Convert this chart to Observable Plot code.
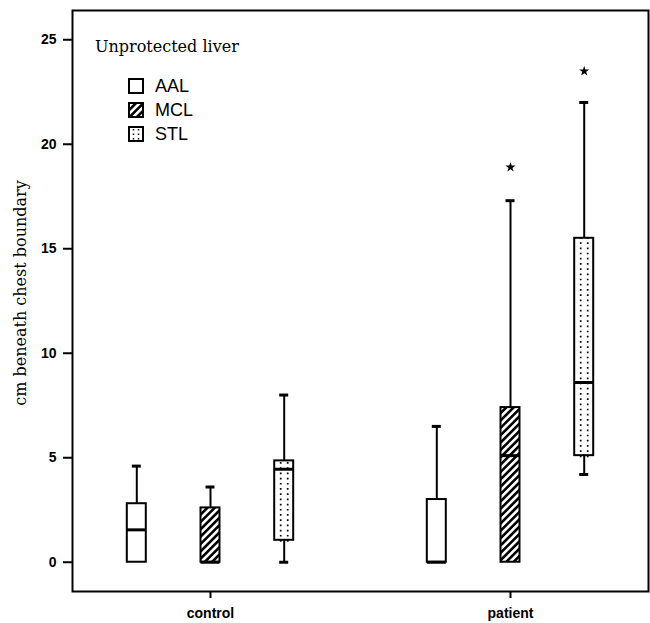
<!DOCTYPE html>
<html>
<head>
<meta charset="utf-8">
<script src="https://cdn.jsdelivr.net/npm/d3@7"></script>
<script src="https://cdn.jsdelivr.net/npm/@observablehq/plot@0.6"></script>
<style>
  html, body { margin: 0; padding: 0; background: #fff; }
  #chart { position: relative; width: 650px; height: 623px; }
  #chart svg.plot { display: block; }
  g[aria-label^="y-axis"] text { font-weight: bold; font-size: 14px; }
  g[aria-label^="x-axis"] text { font-weight: bold; font-size: 14px; }
  g[aria-label^="y-axis"] path, g[aria-label^="y-axis"] line,
  g[aria-label^="x-axis"] path, g[aria-label^="x-axis"] line { stroke-width: 2; }
  #legend-title { position: absolute; left: 95px; top: 38px; font-family: "DejaVu Serif", serif; font-size: 16px; line-height: 18px; color: #000; white-space: nowrap; }
  .lg-row { position: absolute; left: 128px; height: 24px; display: flex; align-items: center; font-family: "Liberation Sans", Arial, sans-serif; font-size: 18px; color: #000; }
  .lg-row svg { margin-right: 11px; display: block; }
</style>
</head>
<body>
<svg width="0" height="0" style="position:absolute">
  <defs>
    <pattern id="hatchMCL" patternUnits="userSpaceOnUse" width="5.2" height="5.2" patternTransform="rotate(45)">
      <rect x="0" y="0" width="5.2" height="5.2" fill="#fff"></rect>
      <rect x="0" y="0" width="2.6" height="5.2" fill="#000"></rect>
    </pattern>
  </defs>
</svg>
<div id="chart"></div>
<script>
// ---- data ----
const categories = ["control", "patient"];
const groups = ["AAL", "MCL", "STL"];
const boxCategory = ["control", "control", "control", "patient", "patient", "patient"];
const boxGroup = ["AAL", "MCL", "STL", "AAL", "MCL", "STL"];
const whiskerLow = [0, 0, 0, 0, 0, 4.2];
const quartile1 = [0, 0, 1.05, 0, 0, 5.1];
const medianValue = [1.55, 0, 4.45, 0, 5.1, 8.6];
const quartile3 = [2.8, 2.6, 4.85, 3.0, 7.4, 15.5];
const whiskerHigh = [4.6, 3.6, 8.0, 6.5, 17.3, 22.0];
const extremeCategory = ["patient", "patient"];
const extremeGroup = ["MCL", "STL"];
const extremeValue = [18.9, 23.5];
const yTicks = [0, 5, 10, 15, 20, 25];
const legendTitle = "Unprotected liver";
const yLabel = "cm beneath chest boundary";

// ---- build tables ----
const boxes = boxCategory.map((c, i) => ({
  category: c, group: boxGroup[i], low: whiskerLow[i], q1: quartile1[i],
  median: medianValue[i], q3: quartile3[i], high: whiskerHigh[i]
}));
const extremes = extremeCategory.map((c, i) => ({category: c, group: extremeGroup[i], value: extremeValue[i]}));

const groupOffset = {AAL: -73.7, MCL: 0, STL: 73.7};
const groupFill = {AAL: "white", MCL: "url(#hatchMCL)", STL: "white"};

const marks = [];
for (const g of groups) {
  const rows = boxes.filter(d => d.group === g);
  const dx = groupOffset[g];
  const lowRows = rows.filter(d => d.low < d.q1);
  marks.push(
    Plot.ruleX(rows, {x: "category", y1: "q3", y2: "high", dx, stroke: "black", strokeWidth: 2}),
    Plot.ruleX(lowRows, {x: "category", y1: "low", y2: "q1", dx, stroke: "black", strokeWidth: 2}),
    Plot.tickY(rows, {x: "category", y: "high", dx, stroke: "black", strokeWidth: 3, insetLeft: 5, insetRight: 5}),
    Plot.tickY(lowRows, {x: "category", y: "low", dx, stroke: "black", strokeWidth: 3, insetLeft: 5, insetRight: 5}),
    Plot.barY(rows, {x: "category", y1: "q1", y2: "q3", dx, fill: groupFill[g], stroke: "black", strokeWidth: 2})
  );
  if (g === "STL") {
    for (const off of [-3.5, 3.5]) {
      marks.push(Plot.ruleX(rows, {x: "category", y1: "q1", y2: "q3", dx: dx + off, stroke: "black", strokeWidth: 1.7, strokeDasharray: "1.7,3.5", insetTop: 2, insetBottom: 2}));
    }
  }
  marks.push(Plot.tickY(rows, {x: "category", y: "median", dx, stroke: "black", strokeWidth: 3}));
  const ex = extremes.filter(d => d.group === g);
  marks.push(Plot.dot(ex, {x: "category", y: "value", dx, symbol: "star", r: 3.2, fill: "black", stroke: "none"}));
}

const chart = Plot.plot({
  width: 650,
  height: 623,
  marginLeft: 72,
  marginRight: 2,
  marginTop: 10,
  marginBottom: 32,
  style: {fontFamily: "'Liberation Sans', Arial, sans-serif", fontSize: "14px", color: "black", background: "white"},
  x: {type: "band", domain: categories, paddingInner: 0.9367, paddingOuter: 0.42833, round: false, label: null, tickSize: 7, tickPadding: 10},
  y: {domain: [-1.4, 26.4], ticks: yTicks, tickSize: 9, tickPadding: 7, label: null},
  marks: [
    ...marks,
    Plot.frame({stroke: "black", strokeWidth: 2}),
    Plot.text([yLabel], {frameAnchor: "left", textAnchor: "middle", rotate: -90, dx: -52, dy: -8, fontFamily: "'DejaVu Serif', serif", fontSize: 16, fill: "black"})
  ]
});
chart.classList.add("plot");
const host = document.getElementById("chart");
host.appendChild(chart);

// ---- legend (HTML overlay) ----
const title = document.createElement("div");
title.id = "legend-title";
title.textContent = legendTitle;
host.appendChild(title);

const legendTop = [74, 98, 122];
groups.forEach((g, i) => {
  const row = document.createElement("div");
  row.className = "lg-row";
  row.style.top = legendTop[i] + "px";
  const ns = "http://www.w3.org/2000/svg";
  const sw = document.createElementNS(ns, "svg");
  sw.setAttribute("width", 16); sw.setAttribute("height", 16);
  const r = document.createElementNS(ns, "rect");
  r.setAttribute("x", 1); r.setAttribute("y", 1); r.setAttribute("width", 14); r.setAttribute("height", 14);
  r.setAttribute("fill", groupFill[g]); r.setAttribute("stroke", "black"); r.setAttribute("stroke-width", 2);
  sw.appendChild(r);
  if (g === "STL") {
    for (const x of [5.5, 10.5]) {
      const l = document.createElementNS(ns, "line");
      l.setAttribute("x1", x); l.setAttribute("x2", x); l.setAttribute("y1", 3); l.setAttribute("y2", 14);
      l.setAttribute("stroke", "black"); l.setAttribute("stroke-width", 1.5); l.setAttribute("stroke-dasharray", "1.5,3");
      sw.appendChild(l);
    }
  }
  row.appendChild(sw);
  const t = document.createElement("span");
  t.textContent = g;
  row.appendChild(t);
  host.appendChild(row);
});
</script>
</body>
</html>
